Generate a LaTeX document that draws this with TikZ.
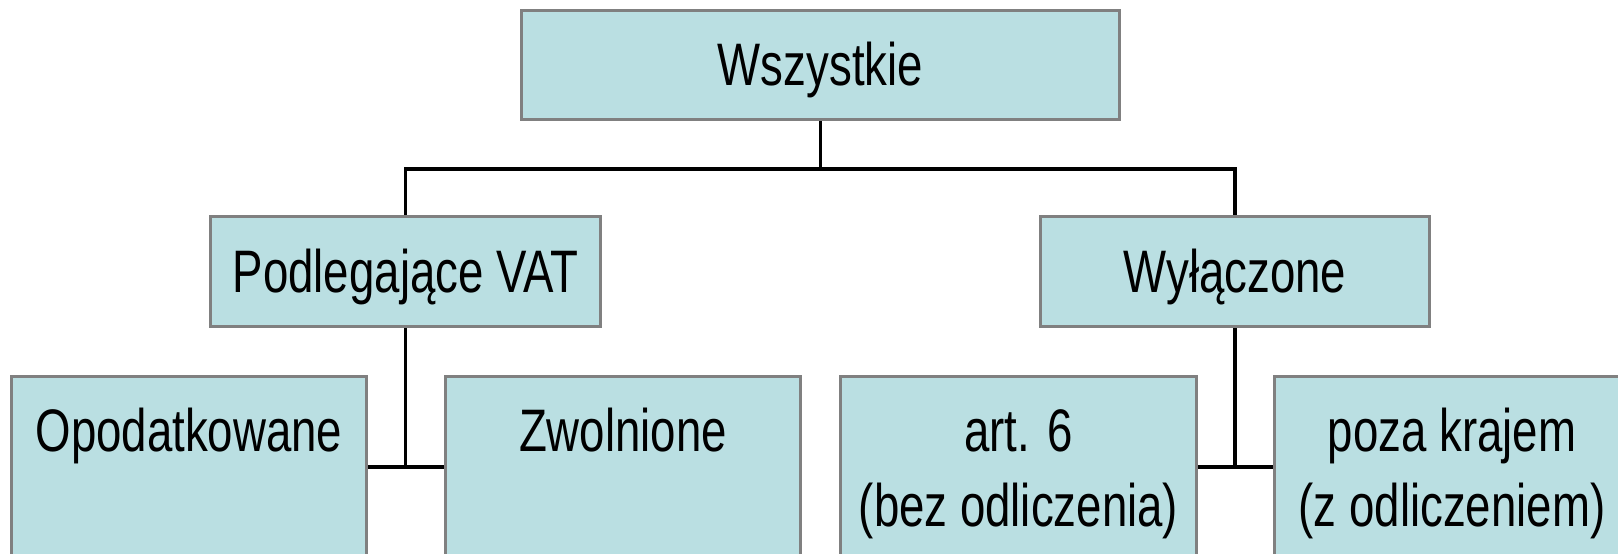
\documentclass[tikz,border=0pt]{standalone}
\usepackage{fontspec}
\setmainfont[FakeStretch=0.76]{Liberation Sans}
\usetikzlibrary{backgrounds}
\definecolor{boxfill}{RGB}{186,223,226}
\definecolor{boxline}{RGB}{128,128,128}
\begin{document}
\begin{tikzpicture}[x=1pt,y=-1pt,
  box/.style={draw=boxline, line width=3pt, fill=boxfill, inner sep=0pt},
  lbl/.style={inner sep=0pt, anchor=base, font=\fontsize{60}{75}\selectfont},
  conn/.style={draw=black, line width=3.5pt}]
\useasboundingbox (0,0) rectangle (1618,554);
\clip (0,0) rectangle (1618,554);
% boxes
\node[box, minimum width=598pt, minimum height=109pt] (all) at (820.5,65) {};
\node[box, minimum width=390pt, minimum height=110pt] (podl) at (405.5,271.5) {};
\node[box, minimum width=389pt, minimum height=110pt] (wyl) at (1235,271.5) {};
\node[box, minimum width=355pt, minimum height=273.5pt] (opod) at (189,513.25) {};
\node[box, minimum width=355pt, minimum height=273.5pt] (zwol) at (623,513.25) {};
\node[box, minimum width=356pt, minimum height=273.5pt] (art) at (1018.5,513.25) {};
\node[box, minimum width=355pt, minimum height=273.5pt] (poza) at (1452,513.25) {};
% texts
\node[lbl] (allT) at (820.5,85) {Wszystkie};
\node[lbl] (podlT) at (405.5,292) {Podlegające VAT};
\node[lbl] (wylT) at (1235,292) {Wyłączone};
\node[lbl] (opodT) at (189,451) {Opodatkowane};
\node[lbl] (zwolT) at (623,451) {Zwolnione};
\node[lbl] (artT1) at (1018.5,451) {art. 6};
\node[lbl] (artT2) at (1018.5,526) {(bez odliczenia)};
\node[lbl] (pozaT1) at (1452,451) {poza krajem};
\node[lbl] (pozaT2) at (1452,526) {(z odliczeniem)};
% connectors
\coordinate (bus) at (820.5,169);
\coordinate (jL) at (405.5,467);
\coordinate (jR) at (1235,467);
\begin{scope}[on background layer]
\draw[conn] (all.south) -- (bus);
\draw[conn] (podl.north) |- (bus) -| (wyl.north);
\draw[conn] (podl.south) -- (jL);
\draw[conn] (opod.east |- jL) -- (zwol.west |- jL);
\draw[conn] (wyl.south) -- (jR);
\draw[conn] (art.east |- jR) -- (poza.west |- jR);
\end{scope}
\end{tikzpicture}
\end{document}
